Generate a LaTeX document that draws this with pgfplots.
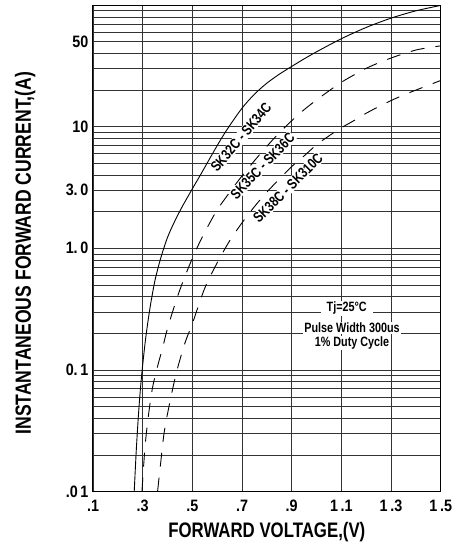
\documentclass[border=0pt]{standalone}
\usepackage{fontspec}
\setmainfont{Liberation Sans}[FakeStretch=0.8]
\newfontfamily\tickfont{Liberation Sans}[FakeStretch=0.87]
\usepackage{pgfplots}
\pgfplotsset{compat=1.18}

\begin{document}
\begin{tikzpicture}
\begin{axis}[
  scale only axis,
  width=347.7pt, height=486.4pt,
  xmin=0.1, xmax=1.5,
  ymin=0.01, ymax=100,
  ymode=log,
  xtick={0.1,0.3,0.5,0.7,0.9,1.1,1.3,1.5},
  xticklabels={.1,.3,.5,.7,.9,1\,.1,1\,.3,1\,.5},
  ytick={0.01,0.1,1,3,10,50},
  yticklabels={.0\,1,0.\,1,1.\,0,3.\,0,10,50},
  minor ytick={0.02,0.03,0.04,0.05,0.06,0.07,0.08,0.09,
               0.2,0.3,0.4,0.5,0.6,0.7,0.8,0.9,
               2,4,5,6,7,8,9,
               20,30,40,60,70,80,90},
  grid=both,
  major grid style={black!80, line width=0.6pt},
  minor grid style={black!80, line width=0.6pt},
  major tick length=0pt, minor tick length=0pt,
  axis line style={line width=1pt},
  ticklabel style={font=\tickfont\fontsize{16.5}{16.5}\selectfont\bfseries},
  xticklabel style={yshift=-5pt},
  yticklabel style={xshift=-1pt},
  xlabel={FORWARD VOLTAGE,(V)},
  ylabel={INSTANTANEOUS FORWARD CURRENT,(A)},
  xlabel style={font=\fontsize{21}{21}\selectfont\bfseries,
                at={(axis description cs:0.5,-0.0843)}, anchor=center},
  ylabel style={font=\fontsize{22}{22}\selectfont\bfseries,
                at={(axis description cs:-0.195,0.49)}, anchor=center},
]

% SK32C - SK34C
\addplot[black, line width=0.9pt, smooth, tension=0.5] coordinates {
  (0.266,0.01) (0.274,0.0214) (0.282,0.0398) (0.290,0.0661) (0.298,0.100)
  (0.310,0.168) (0.320,0.240) (0.330,0.328) (0.340,0.431) (0.350,0.550)
  (0.360,0.667) (0.370,0.795) (0.383,0.972) (0.400,1.229) (0.420,1.526)
  (0.440,1.851) (0.460,2.216) (0.480,2.615) (0.500,3.087) (0.535,4.09)
  (0.570,5.47) (0.610,7.57) (0.645,9.84) (0.700,14.2) (0.750,18.5)
  (0.800,22.8) (0.850,27.0) (0.900,31.3) (0.950,36.1) (1.000,41.3)
  (1.100,52.9) (1.200,65.5) (1.300,78.1) (1.400,89.7) (1.500,99.4)
};

% SK35C - SK36C
\addplot[black, line width=0.9pt, dash pattern=on 14pt off 11pt, smooth, tension=0.5] coordinates {
  (0.297,0.01) (0.31,0.024) (0.325,0.045) (0.34,0.072) (0.36,0.107)
  (0.38,0.151) (0.40,0.219) (0.44,0.40) (0.48,0.66) (0.52,1.02)
  (0.56,1.48) (0.60,2.07) (0.65,2.88) (0.70,3.94) (0.75,5.25)
  (0.80,6.9) (0.85,8.9) (0.90,11.2) (0.95,13.8) (1.00,16.6)
  (1.05,19.7) (1.10,23.2) (1.15,26.6) (1.20,30.2) (1.25,33.5)
  (1.30,36.7) (1.35,39.8) (1.40,42.7) (1.45,44.7) (1.50,46.2)
};

% SK38C - SK310C
\addplot[black, line width=0.9pt, dash pattern=on 14pt off 11pt, smooth, tension=0.5] coordinates {
  (0.36,0.01) (0.373,0.0176) (0.387,0.031) (0.41,0.055) (0.437,0.097)
  (0.47,0.166) (0.50,0.24) (0.55,0.47) (0.60,0.76) (0.65,1.15)
  (0.70,1.62) (0.75,2.2) (0.80,2.9) (0.85,3.7) (0.90,4.7)
  (0.95,5.75) (1.00,7.1) (1.05,8.4) (1.10,9.8) (1.15,11.2)
  (1.20,12.9) (1.25,14.6) (1.30,16.4) (1.35,18.2) (1.40,20)
  (1.45,21.9) (1.50,24)
};

\node[rotate=50, fill=white, inner sep=1pt, font=\fontsize{14.5}{14.5}\selectfont\bfseries]
  at (axis cs:0.696,8.2) {SK32C - SK34C};
\node[rotate=46, fill=white, inner sep=1pt, font=\fontsize{14.5}{14.5}\selectfont\bfseries]
  at (axis cs:0.7825,4.75) {SK35C - SK36C};
\node[rotate=45, fill=white, inner sep=1pt, font=\fontsize{14.5}{14.5}\selectfont\bfseries]
  at (axis cs:0.885,3.13) {SK38C - SK310C};

\node[fill=white, inner xsep=6pt, inner ysep=1pt, font=\fontsize{13.5}{13.5}\selectfont\bfseries]
  at (axis cs:1.1215,0.321) {Tj=25°C};
\node[fill=white, inner sep=1pt, font=\fontsize{13.5}{13.5}\selectfont\bfseries]
  at (axis cs:1.143,0.221) {Pulse Width 300us};
\node[fill=white, inner sep=1pt, font=\fontsize{13.5}{13.5}\selectfont\bfseries]
  at (axis cs:1.143,0.166) {1\% Duty Cycle};
\end{axis}
\pgfresetboundingbox
\path[use as bounding box] (-93pt,-56.5pt) rectangle (365pt,491.5pt);
\end{tikzpicture}
\end{document}
